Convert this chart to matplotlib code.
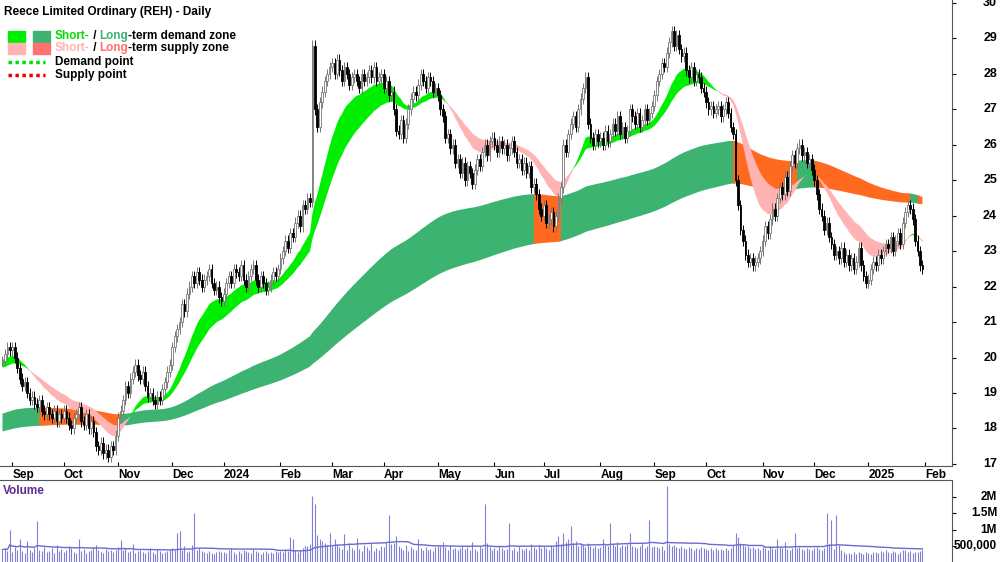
import numpy as np
import pandas as pd
import matplotlib
matplotlib.use("Agg")
import matplotlib.pyplot as plt
from matplotlib.patches import Rectangle
from matplotlib.lines import Line2D
from matplotlib.transforms import blended_transform_factory

closes_by_month = [
    [19.9, 20.1, 20.3, 20.2],
    [20.3, 20.0, 19.7, 19.4, 19.2, 19.3, 19.0, 18.8, 18.9, 18.7, 18.6, 18.8, 18.5, 18.4, 18.6, 18.4, 18.3, 18.5, 18.2, 18.4, 18.3],
    [18.5, 18.3, 18.1, 18.0, 18.3, 18.4, 18.6, 18.2, 18.1, 18.4, 18.0, 18.2, 17.9, 17.5, 17.4, 17.6, 17.3, 17.4, 17.2, 17.5, 17.4, 17.8],
    [18.3, 18.5, 18.8, 19.2, 19.0, 19.4, 19.6, 19.8, 19.5, 19.4, 19.6, 19.2, 18.9, 19.0, 18.8, 18.7, 18.9, 18.8, 19.1, 19.3, 19.6, 19.8],
    [20.3, 20.6, 20.8, 21.0, 21.5, 21.3, 21.8, 22.0, 22.3, 22.1, 22.4, 22.2, 22.0, 22.2, 22.3, 22.5, 22.1, 21.9, 22.0, 21.7, 21.6],
    [21.8, 22.1, 22.3, 22.1, 22.5, 22.4, 22.3, 22.6, 22.2, 22.0, 22.3, 22.5, 22.6, 22.2, 22.0, 22.3, 22.1, 21.9, 22.0, 22.2, 22.4, 22.3, 22.5],
    [22.8, 23.0, 23.3, 23.1, 23.5, 23.4, 23.8, 24.0, 23.7, 24.3, 24.2, 24.5, 24.4, 28.8, 27.0, 26.5, 27.2, 27.5, 27.8, 28.0, 28.2],
    [28.3, 28.0, 28.4, 28.1, 27.8, 28.2, 28.0, 27.7, 27.9, 28.0, 27.8, 27.6, 28.0, 27.8, 27.9, 28.1, 27.9, 28.2, 27.8, 27.9, 28.0],
    [27.6, 27.8, 27.4, 27.5, 27.0, 26.4, 26.3, 26.7, 26.2, 26.6, 27.0, 27.3, 27.5, 27.4, 27.7, 28.0, 27.8, 27.6, 27.9, 27.8, 27.5, 27.6],
    [27.4, 27.0, 26.8, 26.2, 26.3, 25.9, 26.0, 25.5, 25.6, 25.2, 25.5, 25.0, 25.4, 25.2, 24.9, 25.3, 25.6, 25.4, 25.8, 26.0, 25.7, 26.1, 26.2],
    [26.0, 25.8, 26.1, 25.9, 26.0, 25.7, 25.9, 26.1, 25.8, 25.5, 25.6, 25.3, 25.5, 25.2, 25.4, 24.8, 24.9, 24.6, 24.2, 24.0],
    [24.3, 23.8, 23.9, 24.1, 23.7, 24.0, 24.5, 24.8, 26.0, 25.8, 26.3, 26.6, 26.8, 26.5, 27.0, 27.3, 27.6, 27.9, 26.6, 26.2, 26.0, 26.3, 26.1],
    [26.2, 26.0, 26.4, 26.1, 26.3, 26.6, 26.4, 26.8, 26.3, 26.5, 26.2, 26.4, 27.0, 26.8, 26.6, 26.9, 26.5, 26.7, 27.0, 26.7, 26.9, 27.1],
    [27.4, 27.8, 28.0, 28.3, 28.2, 28.6, 28.9, 29.2, 28.8, 29.1, 28.7, 28.5, 28.6, 28.1, 27.9, 28.2, 27.8, 28.0, 27.9, 27.6, 27.5],
    [27.2, 27.0, 27.1, 26.9, 27.0, 27.1, 26.8, 27.0, 27.2, 26.9, 26.5, 26.3, 25.0, 24.3, 23.6, 23.3, 22.9, 22.7, 22.8, 22.6, 22.7, 22.8, 23.0],
    [23.3, 23.7, 23.5, 23.9, 24.2, 24.0, 24.5, 24.8, 24.6, 25.1, 24.7, 25.4, 25.7, 25.5, 25.9, 26.0, 25.7, 25.8, 25.5, 25.6, 25.3],
    [25.0, 24.6, 24.2, 24.0, 23.6, 23.8, 23.4, 23.2, 22.9, 23.0, 22.8, 23.1, 22.7, 22.9, 22.6, 22.8, 22.5, 22.7, 23.1, 22.6, 22.3, 22.1],
    [22.2, 22.5, 22.7, 22.6, 22.9, 22.8, 23.0, 23.2, 23.1, 23.4, 23.0, 23.3, 23.5, 23.2, 23.8, 24.1, 24.3, 24.2, 23.9, 23.3, 23.0, 22.6, 22.5],
]
volume_k_by_month = [
    [380, 420, 350, 980],
    [320, 450, 380, 700, 340, 290, 650, 360, 310, 420, 1250, 380, 330, 460, 300, 350, 420, 280, 510, 330, 390],
    [300, 360, 480, 420, 320, 280, 700, 350, 410, 290, 330, 370, 450, 520, 380, 310, 290, 400, 340, 360, 320, 380],
    [450, 680, 380, 420, 300, 340, 560, 290, 330, 370, 310, 280, 350, 420, 300, 260, 390, 340, 280, 310, 330, 360],
    [420, 380, 900, 950, 360, 480, 300, 340, 520, 1500, 380, 420, 350, 310, 290, 330, 280, 260, 300, 350, 320],
    [310, 280, 360, 420, 300, 260, 330, 290, 380, 340, 310, 280, 400, 350, 320, 260, 300, 340, 290, 310, 280, 330, 300],
    [350, 300, 400, 340, 780, 720, 380, 320, 360, 420, 480, 500, 550, 2050, 1800, 820, 700, 650, 600, 520, 900],
    [500, 700, 550, 450, 400, 850, 380, 600, 420, 360, 750, 400, 330, 520, 450, 380, 600, 340, 420, 380, 500],
    [450, 620, 1450, 540, 600, 800, 480, 420, 380, 520, 350, 460, 400, 380, 720, 420, 360, 450, 380, 400, 340, 460],
    [500, 480, 620, 450, 380, 520, 400, 440, 360, 420, 480, 390, 450, 380, 620, 400, 350, 480, 420, 1800, 600, 450, 380],
    [420, 380, 500, 440, 360, 400, 1200, 380, 420, 350, 480, 400, 360, 420, 380, 540, 460, 400, 520, 440],
    [480, 420, 380, 520, 460, 640, 800, 540, 900, 620, 700, 1100, 580, 650, 480, 560, 520, 460, 600, 500, 440, 480, 420],
    [460, 700, 520, 480, 1200, 560, 500, 620, 460, 520, 480, 560, 880, 500, 460, 420, 480, 600, 440, 500, 1300, 460],
    [500, 460, 420, 480, 380, 2350, 560, 480, 520, 460, 420, 500, 440, 400, 460, 420, 380, 440, 400, 460, 420],
    [400, 380, 440, 360, 420, 380, 400, 360, 420, 380, 440, 520, 900, 780, 600, 520, 480, 500, 420, 460, 400, 440, 380],
    [460, 420, 380, 500, 440, 400, 700, 460, 420, 620, 400, 380, 440, 900, 420, 460, 400, 380, 440, 400, 360],
    [420, 460, 400, 380, 440, 1500, 560, 1300, 400, 1450, 520, 380, 300, 260, 280, 240, 300, 260, 320, 280, 260, 300],
    [280, 260, 300, 320, 280, 340, 300, 360, 320, 280, 340, 300, 260, 320, 360, 380, 300, 340, 280, 320, 300, 340, 360],
]
month_labels = ["Sep", "Oct", "Nov", "Dec", "2024", "Feb", "Mar", "Apr", "May", "Jun", "Jul", "Aug",
                "Sep", "Oct", "Nov", "Dec", "2025", "Feb"]
price_ticks = list(range(17, 31))
vol_ticks = [500000, 1000000, 1500000, 2000000]
vol_tick_labels = ["500,000", "1M", "1.5M", "2M"]
short_seed = (19.95, 19.7)
long_seed = (18.4, 17.9)

close = np.array([c for m in closes_by_month for c in m])
vol = np.array([v for m in volume_k_by_month for v in m], dtype=float) * 1000
n = min(len(close), len(vol))
close, vol = close[:n], vol[:n]
x = np.arange(n)
opn = np.concatenate([[close[0]], close[:-1]])
hi = np.maximum(opn, close) + 0.15
lo = np.minimum(opn, close) - 0.15

month_pos = []
idx = 0
for m in closes_by_month:
    month_pos.append(idx)
    idx += len(m)
month_pos = month_pos[1:] + [idx]

def ema(series, span, seed):
    a = 2.0 / (span + 1)
    out = np.empty(len(series))
    e = seed
    for i, c in enumerate(series):
        e = e + a * (c - e)
        out[i] = e
    return out

sf, ss = ema(close, 18, short_seed[0]), ema(close, 32, short_seed[1])
lf, ls = ema(close, 160, long_seed[0]), ema(close, 260, long_seed[1])

def ext(m):
    return m | np.concatenate([[False], m[:-1]]) | np.concatenate([m[1:], [False]])

fig = plt.figure(figsize=(10, 5.62), dpi=100)
ax = fig.add_axes([0.0, 1 - 466 / 562, 0.952, 466 / 562])
axv = fig.add_axes([0.0, 0.0, 0.952, 82 / 562])

lup, llo = np.maximum(lf, ls), np.minimum(lf, ls)
long_bull = (lf > ls) & ~((sf < ss) & (close < lup))
ax.fill_between(x, llo, lup, where=ext(long_bull), color="#3cb371", lw=0, zorder=1)
ax.fill_between(x, llo, lup, where=ext(~long_bull), color="#ff6a20", lw=0, zorder=1.1)
sup, slo = np.maximum(sf, ss), np.minimum(sf, ss)
sbull = sf > ss
ax.fill_between(x, slo, sup, where=ext(sbull), color="#00ee00", lw=0, zorder=2)
ax.fill_between(x, slo, sup, where=ext(~sbull), color="#ffb3b3", lw=0, zorder=2.1)

up = close >= opn
ax.vlines(x, lo, hi, color=np.where(up, "#777777", "#000000"), lw=0.7, zorder=3)
body_lo = np.minimum(opn, close)
body_h = np.maximum(np.abs(close - opn), 0.03)
ax.bar(x[up], body_h[up], bottom=body_lo[up], width=0.7, color="white", edgecolor="#777777", lw=0.6, zorder=4)
ax.bar(x[~up], body_h[~up], bottom=body_lo[~up], width=0.7, color="black", edgecolor="black", lw=0.6, zorder=4)

fam = "Liberation Sans"
xl = (-1, n + 11)
ax.set_xlim(*xl)
ax.set_ylim(16.94, 30.085)
ax.yaxis.tick_right()
ax.set_yticks(price_ticks)
ax.set_yticklabels([])
ax.tick_params(axis="y", direction="out", length=3)
tr = blended_transform_factory(fig.transFigure, ax.transData)
for t in price_ticks:
    ax.text(0.997, t, str(t), transform=tr, ha="right", va="center", fontsize=9,
            fontweight="bold", family=fam, clip_on=False)
ax.set_xticks(month_pos)
ax.set_xticklabels(month_labels, fontsize=8.5, fontweight="bold", family=fam, ha="left")
ax.tick_params(axis="x", direction="in", length=3, pad=2)
for s in ["top", "left"]:
    ax.spines[s].set_visible(False)
ax.spines["right"].set_color("#555555")
ax.spines["bottom"].set_color("#555555")

axv.vlines(x, 0, vol, color="#8080d8", lw=0.8)
avg = pd.Series(vol).rolling(40, min_periods=1).mean().values
axv.plot(x, avg, color="#6a6ad0", lw=1.0)
axv.set_xlim(*xl)
axv.set_ylim(0, 2.53e6)
axv.yaxis.tick_right()
axv.set_yticks(vol_ticks)
axv.set_yticklabels([])
axv.tick_params(axis="y", direction="out", length=3)
trv = blended_transform_factory(fig.transFigure, axv.transData)
for t, lab in zip(vol_ticks, vol_tick_labels):
    axv.text(0.997, t, lab, transform=trv, ha="right", va="center", fontsize=8.5,
             fontweight="bold", family=fam, clip_on=False)
axv.set_xticks([])
for s in ["left", "bottom"]:
    axv.spines[s].set_visible(False)
axv.spines["right"].set_color("#555555")
axv.spines["top"].set_color("#555555")
axv.text(0.003, 0.94, "Volume", transform=axv.transAxes, fontsize=8.5, fontweight="bold",
         color="#5b2c8f", family=fam, va="top")

fig.text(0.004, 0.99, "Reece Limited Ordinary (REH) - Daily", fontsize=8.5, fontweight="bold", family=fam, va="top")
def sq(x0, y0, c):
    fig.patches.append(Rectangle((x0 / 1000, 1 - (y0 + 11) / 562), 17 / 1000, 11 / 562,
                                 transform=fig.transFigure, color=c))
sq(8, 31, "#00ee00"); sq(33, 31, "#3cb371")
sq(8, 43, "#ffb3b3"); sq(33, 43, "#ff7070")
for yy, c in [(62, "#00dd00"), (75, "#ee0000")]:
    fig.lines.append(Line2D([8 / 1000, 45 / 1000], [1 - yy / 562] * 2, transform=fig.transFigure,
                            color=c, lw=2.5, ls=(0, (1, 1))))
r = fig.canvas.get_renderer()
def row(y0, parts):
    xx = 55 / 1000
    for s, c in parts:
        tt = fig.text(xx, 1 - y0 / 562, s, fontsize=8.5, fontweight="bold", family=fam, va="center", color=c)
        bb = tt.get_window_extent(renderer=r)
        xx += bb.width / fig.bbox.width
row(36, [("Short-", "#00dd00"), (" / ", "black"), ("Long", "#3cb371"), ("-term demand zone", "black")])
row(48, [("Short-", "#ffb3b3"), (" / ", "black"), ("Long", "#ff7070"), ("-term supply zone", "black")])
row(62, [("Demand point", "black")])
row(75, [("Supply point", "black")])

fig.savefig("out.png", dpi=100)
